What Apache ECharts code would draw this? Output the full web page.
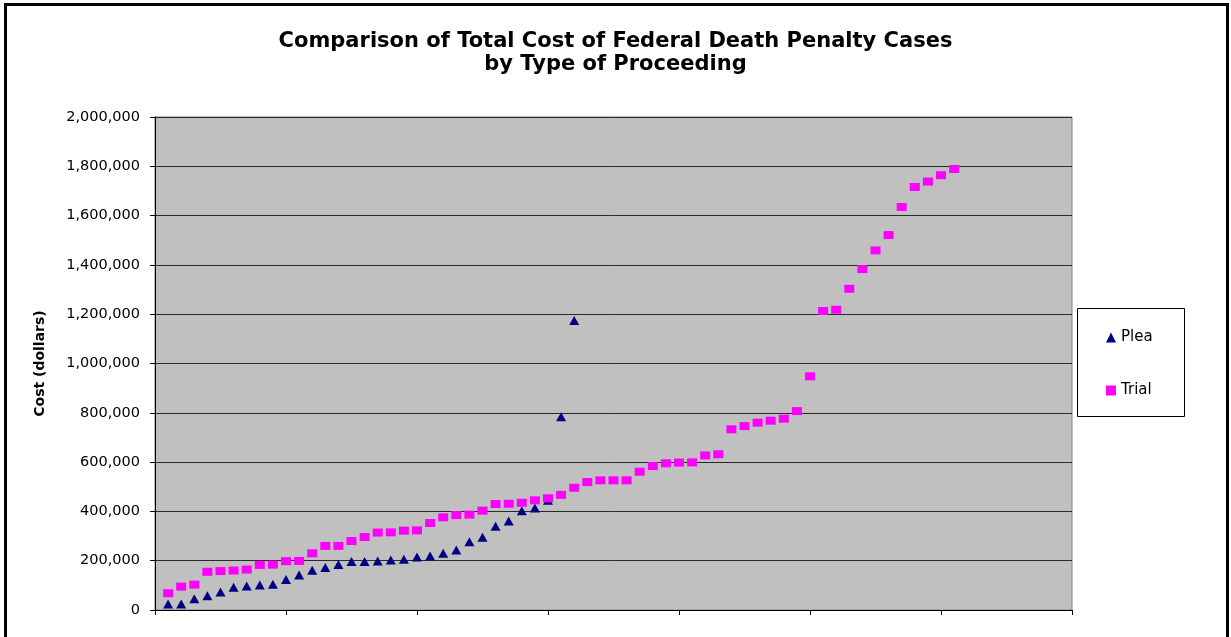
<!DOCTYPE html>
<html>
<head>
<meta charset="utf-8">
<script src="https://cdn.jsdelivr.net/npm/echarts@6/dist/echarts.min.js"></script>
<style>
html,body{margin:0;padding:0;background:#fff;}
#chart{width:1231px;height:637px;}
</style>
</head>
<body>
<div id="chart"></div>
<script>
// Case cost values (dollars), sorted ascending, case index starting at 1
var pleaCosts = [24000, 24000, 46000, 58000, 73000, 92000, 97000, 101000, 104000, 124000,
  142000, 161000, 172000, 185000, 197000, 197000, 199000, 203000, 206000, 215000,
  219000, 230000, 243000, 277000, 295000, 340000, 361000, 403000, 414000, 445000,
  784000, 1174000];
var trialCosts = [68000, 95000, 103000, 155000, 158000, 160000, 164000, 183000, 184000, 198000,
  199000, 230000, 260000, 260000, 280000, 296000, 314000, 315000, 322000, 323000,
  353000, 376000, 385000, 387000, 403000, 430000, 431000, 435000, 445000, 453000,
  467000, 496000, 519000, 526000, 526000, 526000, 561000, 584000, 595000, 598000,
  599000, 627000, 632000, 733000, 746000, 760000, 768000, 776000, 807000, 948000,
  1213000, 1218000, 1303000, 1383000, 1459000, 1521000, 1635000, 1716000, 1738000, 1764000,
  1789000];
var seriesNames = ['Plea', 'Trial'];
var yTicks = [0, 200000, 400000, 600000, 800000, 1000000, 1200000, 1400000, 1600000, 1800000, 2000000];

function toPoints(arr){ return arr.map(function(v,i){ return [i+1, v]; }); }

var chart = echarts.init(document.getElementById('chart'), null, {renderer:'canvas'});
var wide = 'DejaVu Sans, sans-serif';
chart.setOption({
  animation: false,
  backgroundColor: '#ffffff',
  title: {
    text: 'Comparison of Total Cost of Federal Death Penalty Cases\nby Type of Proceeding',
    left: 'center',
    top: 25,
    textStyle: {fontFamily: wide, fontSize: 21, fontWeight: 'bold', color: '#000', lineHeight: 23, align: 'center'}
  },
  legend: {
    orient: 'vertical',
    left: 1101,
    top: 325,
    itemGap: 38,
    itemWidth: 10,
    itemHeight: 10,
    textStyle: {fontFamily: wide, fontSize: 15, color: '#000'},
    data: [
      {name: 'Plea', icon: 'triangle'},
      {name: 'Trial', icon: 'rect'}
    ]
  },
  graphic: [
    {type:'rect', shape:{x:5.5, y:4.5, width:1222, height:700}, style:{fill:'none', stroke:'#000', lineWidth:3}, silent:true},
    {type:'rect', shape:{x:1077.5, y:308.5, width:107, height:108}, style:{fill:'#fff', stroke:'#000', lineWidth:1}, silent:true, z:-1}
  ],
  grid: {
    left: 155, right: 159, top: 117, bottom: 27,
    show: true, backgroundColor: '#C0C0C0', borderColor: '#808080', borderWidth: 1,
    containLabel: false
  },
  xAxis: {
    type: 'value', min: 0, max: 70, interval: 10,
    axisLine: {show: true, lineStyle: {color: '#000', width: 1}},
    axisTick: {show: true, length: 5, inside: false, lineStyle: {color: '#000'}},
    axisLabel: {show: false},
    splitLine: {show: false}
  },
  yAxis: {
    type: 'value', min: 0, max: 2000000, interval: 200000,
    name: 'Cost (dollars)',
    nameLocation: 'middle',
    nameGap: 108,
    nameRotate: 90,
    nameTextStyle: {fontFamily: wide, fontSize: 14, fontWeight: 'bold', color: '#000'},
    axisLine: {show: true, lineStyle: {color: '#000', width: 1}},
    axisTick: {show: true, length: 5, inside: false, lineStyle: {color: '#000'}},
    axisLabel: {
      fontFamily: wide, fontSize: 14.5, color: '#000', margin: 15,
      formatter: function(v){ return v.toLocaleString('en-US'); }
    },
    splitLine: {show: true, lineStyle: {color: '#2a2a2a', width: 1}}
  },
  series: [
    {
      name: seriesNames[0], type: 'scatter', symbol: 'triangle', symbolSize: [10, 9],
      itemStyle: {color: '#000080', opacity: 1},
      data: toPoints(pleaCosts), z: 2
    },
    {
      name: seriesNames[1], type: 'scatter', symbol: 'rect', symbolSize: [10, 8],
      itemStyle: {color: '#FF00FF', opacity: 1},
      data: toPoints(trialCosts), z: 3
    }
  ]
});
</script>
</body>
</html>
